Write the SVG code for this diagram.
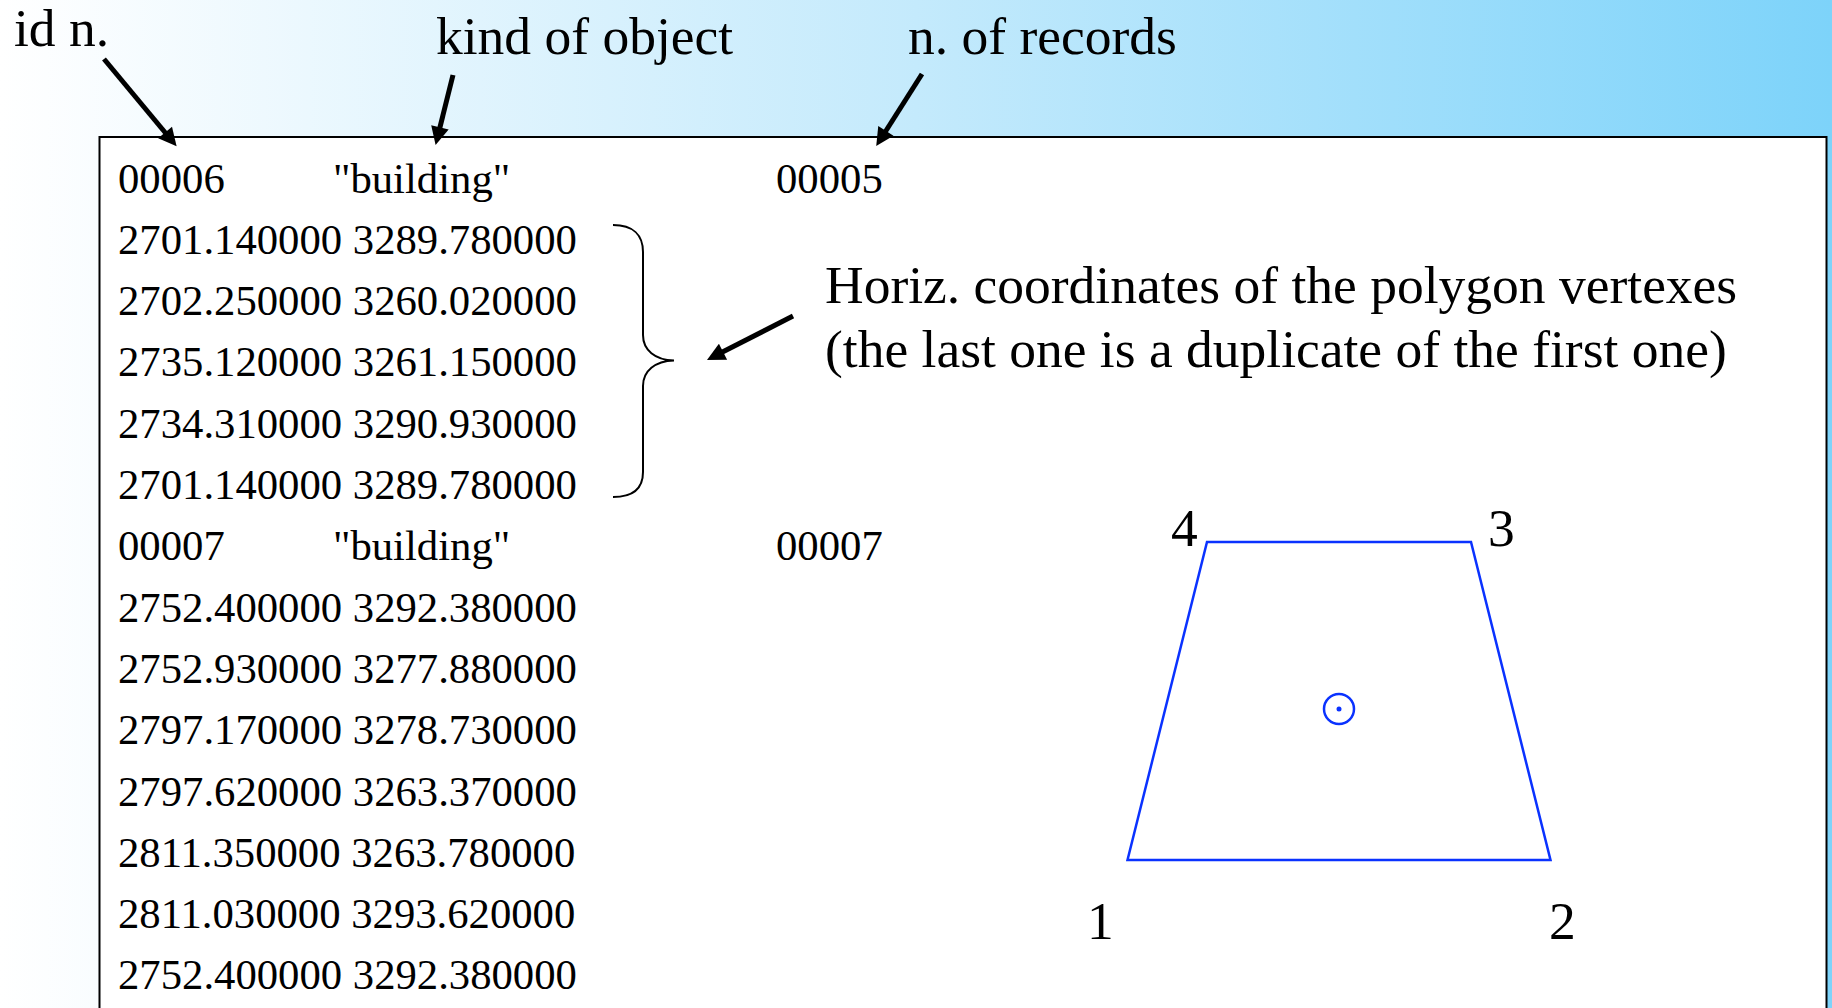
<svg xmlns="http://www.w3.org/2000/svg" width="1832" height="1008" viewBox="0 0 1832 1008">
<defs>
<linearGradient id="bg" x1="0" y1="0" x2="1" y2="0">
<stop offset="0" stop-color="#ffffff"/>
<stop offset="0.5" stop-color="#c4eafc"/>
<stop offset="1" stop-color="#7dd3fa"/>
</linearGradient>
<marker id="ah" viewBox="0 0 10 10" refX="4" refY="5" markerWidth="20" markerHeight="18" markerUnits="userSpaceOnUse" orient="auto">
<path d="M0,0 L10,5 L0,10 z" fill="#000"/>
</marker>
</defs>
<style>
.lbl{font-family:"Liberation Serif","Times New Roman",serif;font-size:53.5px;fill:#000}
.body{font-family:"Liberation Serif","Times New Roman",serif;font-size:42.7px;fill:#000}
.arr{stroke:#000;stroke-width:5;fill:none;marker-end:url(#ah)}
.poly{stroke:#0a32ff;stroke-width:2.5;fill:none}
</style>
<rect x="0" y="0" width="1832" height="1008" fill="url(#bg)"/>
<g id="record-box">
<rect x="99.5" y="137" width="1727" height="900" fill="#fff" stroke="#000" stroke-width="2"/>
</g>
<g id="labels">
<text class="lbl" x="14" y="46">id n.</text>
<text class="lbl" x="436" y="54">kind of object</text>
<text class="lbl" x="908" y="54">n. of records</text>
<text class="lbl" x="825" y="303">Horiz. coordinates of the polygon vertexes</text>
<text class="lbl" x="825" y="367">(the last one is a duplicate of the first one)</text>
</g>
<g id="records">
<text class="body" x="118" y="192.5">00006</text>
<text class="body" x="333" y="192.5">"building"</text>
<text class="body" x="776" y="192.5">00005</text>
<text class="body" x="118" y="253.8">2701.140000 3289.780000</text>
<text class="body" x="118" y="315.1">2702.250000 3260.020000</text>
<text class="body" x="118" y="376.4">2735.120000 3261.150000</text>
<text class="body" x="118" y="437.7">2734.310000 3290.930000</text>
<text class="body" x="118" y="499">2701.140000 3289.780000</text>
<text class="body" x="118" y="560.3">00007</text>
<text class="body" x="333" y="560.3">"building"</text>
<text class="body" x="776" y="560.3">00007</text>
<text class="body" x="118" y="621.6">2752.400000 3292.380000</text>
<text class="body" x="118" y="682.9">2752.930000 3277.880000</text>
<text class="body" x="118" y="744.2">2797.170000 3278.730000</text>
<text class="body" x="118" y="805.5">2797.620000 3263.370000</text>
<text class="body" x="118" y="866.8">2811.350000 3263.780000</text>
<text class="body" x="118" y="928.1">2811.030000 3293.620000</text>
<text class="body" x="118" y="989.4">2752.400000 3292.380000</text>
</g>
<g id="brace">
<path d="M613,225 C633,225 643,235 643,252 L643,335 C643,350 655,360 674,360.5 C655,361 643,371 643,386 L643,472 C643,489 633,497 613,497" fill="none" stroke="#000" stroke-width="2"/>
</g>
<g id="polygon">
<polygon class="poly" points="1127.5,860 1550.5,860 1471,542 1207,542"/>
<circle cx="1339" cy="709" r="15" class="poly"/>
<circle cx="1339" cy="709" r="2.5" fill="#0a32ff"/>
<text class="lbl" x="1171" y="546">4</text>
<text class="lbl" x="1488" y="546">3</text>
<text class="lbl" x="1087" y="939">1</text>
<text class="lbl" x="1549" y="939">2</text>
</g>
<g id="connectors">
<line class="arr" x1="104" y1="59" x2="169.7" y2="138"/>
<line class="arr" x1="453" y1="75" x2="438.2" y2="134.4"/>
<line class="arr" x1="922" y1="74" x2="882" y2="137"/>
<line class="arr" x1="793" y1="316" x2="716.6" y2="355.1"/>
</g>
</svg>
